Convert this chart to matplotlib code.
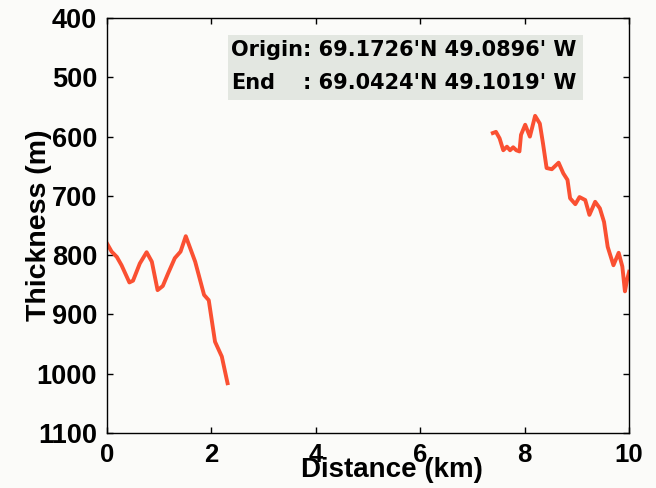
import matplotlib
matplotlib.use('Agg')
import matplotlib.pyplot as plt
from matplotlib.patches import Rectangle

# profile data: distance (km) vs ice thickness (m)
dist_a = [0.0, 0.09, 0.19, 0.28, 0.43, 0.50, 0.63, 0.76, 0.86, 0.97, 1.07,
          1.17, 1.30, 1.41, 1.51, 1.69, 1.86, 1.95, 2.07, 2.20, 2.31]
thick_a = [780, 794, 803, 817, 846, 843, 814, 795, 811, 859, 852,
           831, 805, 794, 768, 811, 867, 876, 946, 971, 1016]

dist_b = [7.39, 7.45, 7.52, 7.59, 7.66, 7.72, 7.78, 7.84, 7.90, 7.93, 8.01,
          8.10, 8.20, 8.29, 8.35, 8.42, 8.52, 8.65, 8.74, 8.82, 8.87, 8.97,
          9.05, 9.16, 9.24, 9.35, 9.44, 9.52, 9.59, 9.70, 9.80, 9.87, 9.92,
          9.96, 10.0]
thick_b = [594, 592, 603, 623, 617, 623, 618, 623, 625, 597, 580,
           600, 565, 578, 611, 653, 655, 644, 662, 673, 704, 714,
           702, 707, 732, 710, 721, 744, 786, 817, 796, 819, 861,
           842, 828]

xticks = [0, 2, 4, 6, 8, 10]
yticks = [400, 500, 600, 700, 800, 900, 1000, 1100]
line1 = "Origin: 69.1726'N 49.0896' W"
line2_a = "End"
line2_b = ": 69.0424'N 49.1019' W"

bg = '#fbfbf9'
fig = plt.figure(figsize=(6.56, 4.88), dpi=100, facecolor=bg)
ax = fig.add_axes([0.163, 0.1127, 0.796, 0.8503])
ax.set_facecolor(bg)

ax.plot(dist_a, thick_a, color='#fa5032', lw=2.8)
ax.plot(dist_b, thick_b, color='#fa5032', lw=2.8)

ax.set_xlim(0, 10)
ax.set_ylim(1100, 400)
ax.set_xticks(xticks)
ax.set_yticks(yticks)
ax.tick_params(direction='in', length=4, width=1, top=True, right=True, pad=7)
for lab in ax.get_xticklabels():
    lab.set_fontfamily('Liberation Sans')
    lab.set_fontweight('bold')
    lab.set_fontsize(18.5)
for lab in ax.get_yticklabels():
    lab.set_fontfamily('Liberation Sans')
    lab.set_fontweight('bold')
    lab.set_fontsize(19.5)
for s in ax.spines.values():
    s.set_linewidth(1.0)

ax.set_xlabel('Distance (km)', fontfamily='Liberation Sans', fontweight='bold',
              fontsize=20)
ax.set_ylabel('Thickness (m)', fontfamily='Liberation Sans', fontweight='bold',
              fontsize=20.5)
ax.xaxis.set_label_coords(0.546, -0.057)
ax.yaxis.set_label_coords(-0.105, 0.5)

# grey info box
ax.add_patch(Rectangle((0.232, 0.802), 0.680, 0.157, transform=ax.transAxes,
                       facecolor='#e3e7e1', edgecolor='none', zorder=3))
tkw = dict(transform=ax.transAxes, fontfamily='DejaVu Sans', fontweight='bold',
           fontsize=15, va='center', ha='left', zorder=4)
ax.text(0.2375, 0.922, line1, **tkw)
ax.text(0.2375, 0.843, line2_a, **tkw)
ax.text(0.3755, 0.843, line2_b, **tkw)

fig.savefig('out.png', dpi=100, facecolor=fig.get_facecolor())
